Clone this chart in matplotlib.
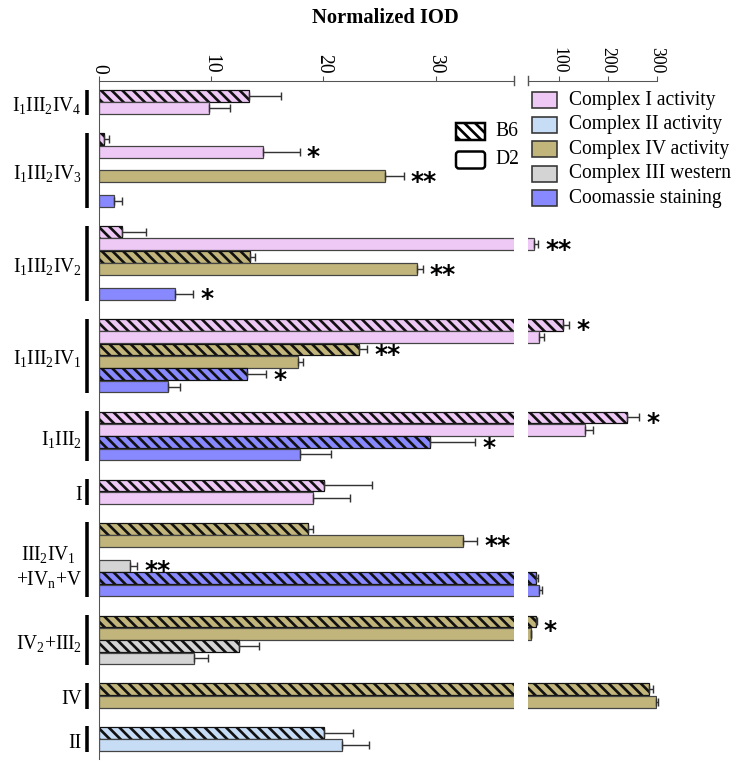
import numpy as np
import matplotlib
matplotlib.use('Agg')
import matplotlib.pyplot as plt
from matplotlib.patches import Rectangle, FancyBboxPatch
from matplotlib.transforms import blended_transform_factory, offset_copy

plt.rcParams['font.family'] = 'Liberation Serif'
plt.rcParams['mathtext.fontset'] = 'custom'
plt.rcParams['mathtext.rm'] = 'Liberation Serif'
plt.rcParams['mathtext.it'] = 'Liberation Serif:italic'
plt.rcParams['mathtext.bf'] = 'Liberation Serif:bold'
plt.rcParams['hatch.linewidth'] = 1.5

# group labels (top to bottom); the two-line one is split in two lines
group_labels = ['I$_1$III$_2$IV$_4$', 'I$_1$III$_2$IV$_3$', 'I$_1$III$_2$IV$_2$',
                'I$_1$III$_2$IV$_1$', 'I$_1$III$_2$', 'I',
                ('III$_2$IV$_1$', '+IV$_{\\mathrm{n}}$+V'), 'IV$_2$+III$_2$',
                'IV', 'II']

# one entry per bar slot (nan = empty slot)
bar_group = [0, 0,
             1, 1, 1, 1, 1, 1,
             2, 2, 2, 2, 2, 2,
             3, 3, 3, 3, 3, 3,
             4, 4, 4, 4,
             5, 5,
             6, 6, 6, 6, 6, 6,
             7, 7, 7, 7,
             8, 8,
             9, 9]
bar_complex = ['I', 'I',
               'I', 'I', 'IV', 'IV', 'C', 'C',
               'I', 'I', 'IV', 'IV', 'C', 'C',
               'I', 'I', 'IV', 'IV', 'C', 'C',
               'I', 'I', 'C', 'C',
               'I', 'I',
               'IV', 'IV', 'III', 'III', 'C', 'C',
               'IV', 'IV', 'III', 'III',
               'IV', 'IV',
               'II', 'II']
bar_strain = ['B6', 'D2'] * 20
bar_value = [13.4, 9.8,
             0.5, 14.6, np.nan, 25.5, np.nan, 1.4,
             2.1, 49.3, 13.5, 28.3, np.nan, 6.8,
             108.8, 59.6, 23.2, 17.7, 13.2, 6.2,
             238.7, 153.3, 29.5, 17.9,
             20.1, 19.1,
             18.6, 32.4, np.nan, 2.8, 52.0, 59.0,
             52.0, 41.8, 12.5, 8.5,
             285.2, 298.2,
             20.1, 21.7]
bar_err = [2.8, 1.9,
           0.45, 3.3, 0, 1.65, 0, 0.66,
           2.1, 8.0, 0.45, 0.55, 0, 1.6,
           11.6, 9.5, 0.7, 0.5, 1.7, 1.0,
           26.0, 17.0, 4.0, 2.8,
           4.2, 3.3,
           0.5, 1.3, 0, 0.6, 5.5, 5.4,
           2.0, 1.0, 1.8, 1.25,
           8.0, 5.0,
           2.5, 2.4]
bar_sig = ['', '',
           '', '*', '', '**', '', '',
           '', '**', '', '**', '', '*',
           '*', '', '**', '', '*', '',
           '*', '', '*', '',
           '', '',
           '', '**', '', '**', '', '',
           '*', '', '', '',
           '', '',
           '', '']

complex_names = ['I', 'II', 'IV', 'III', 'C']
complex_labels = ['Complex I activity', 'Complex II activity', 'Complex IV activity',
                  'Complex III western', 'Coomassie staining']
complex_colors = {'I': '#EEC9F5', 'II': '#C7DCF5', 'IV': '#C1B57B', 'III': '#D4D4D4', 'C': '#8989FF'}

left_ticks = [0, 10, 20, 30]
right_ticks = [100, 200, 300]
brk = 37.0

W, H, DPI = 740, 762, 128
fig = plt.figure(figsize=(W / DPI, H / DPI), dpi=DPI)


def fx(x):
    return x / W


def fy(y):
    return 1 - y / H


def pt(px):
    return px * 72 / DPI


top_px, bot_px = 80.5, 759
ax1 = fig.add_axes([fx(98.7), fy(bot_px), fx(514.3 - 98.7), (bot_px - top_px) / H])
ax2 = fig.add_axes([fx(528.3), fy(bot_px), fx(656.5 - 528.3), (bot_px - top_px) / H])

pos = np.arange(len(bar_value)) + 1.5 * np.array(bar_group)
pitch = (745 - 96) / pos[-1]
ytop = -(96 - top_px) / pitch
ybot = ytop + (bot_px - top_px) / pitch

HATCH = '\\' * 4

for i, v in enumerate(bar_value):
    if np.isnan(v):
        continue
    hatched = bar_strain[i] == 'B6'
    for ax in (ax1, ax2):
        ax.barh(pos[i], v, height=0.95, color=complex_colors[bar_complex[i]],
                edgecolor='#111111' if hatched else '#444444', linewidth=0.7,
                hatch=HATCH if hatched else None)
    ax = ax1 if v <= brk else ax2
    e = bar_err[i]
    ax.errorbar(v, pos[i], xerr=[[0], [e]], fmt='none', ecolor='#333333',
                elinewidth=0.8, capsize=2.2, capthick=0.8, clip_on=False)
    if bar_sig[i]:
        yy = pos[i]
        if bar_group[i] == 7:
            yy = pos[i] + 0.3
        ax.annotate(bar_sig[i], xy=(v + e, yy), xytext=(4, -7.0), textcoords='offset points',
                    ha='left', va='baseline', fontsize=14, fontweight='bold',
                    family='DejaVu Sans', annotation_clip=False)

for ax, lim, ticks, fs in ((ax1, (0, brk), left_ticks, 11), (ax2, (brk, 300), right_ticks, 10)):
    ax.set_xlim(*lim)
    ax.set_ylim(ybot, ytop)
    ax.set_yticks([])
    ax.set_xticks(ticks)
    ax.xaxis.set_ticks_position('top')
    ax.tick_params(axis='x', direction='out', length=2.8, width=0.6, color='#555555',
                   pad=1.0, labelsize=fs, labelrotation=-90)
    for s in ('right', 'bottom'):
        ax.spines[s].set_visible(False)
    ax.spines['top'].set_linewidth(0.6)
    ax.spines['top'].set_color('#555555')
    ax.patch.set_alpha(0)
ax1.spines['left'].set_linewidth(0.6)
ax1.spines['left'].set_color('#555555')
ax2.spines['left'].set_visible(False)

# break marks
h = 4.6 / (bot_px - top_px)
for ax in (ax1, ax2):
    ax.plot([brk, brk], [1 - h, 1 + h], color='#555555', lw=0.8,
            transform=ax.get_xaxis_transform(), clip_on=False)

# group brackets and labels
trans = blended_transform_factory(ax1.transAxes, ax1.transData)
axw = 514.3 - 98.7
bx = (87.3 - 98.7) / axw
lx = (82.0 - 98.7) / axw
cx = (48.5 - 98.7) / axw
for g, lab in enumerate(group_labels):
    p = pos[np.array(bar_group) == g]
    y0, y1 = p.min() - 0.5, p.max() + 0.55
    ym = (y0 + y1) / 2
    ax1.plot([bx, bx], [y0, y1], color='black', lw=2.0, transform=trans,
             clip_on=False, solid_capstyle='butt')
    if isinstance(lab, tuple):
        t1 = offset_copy(trans, fig=fig, x=0, y=-pt(0.5), units='points')
        t2 = offset_copy(trans, fig=fig, x=0, y=-pt(25.5), units='points')
        ax1.text(cx, ym, lab[0], transform=t1, ha='center', va='baseline', fontsize=11)
        ax1.text(cx, ym, lab[1], transform=t2, ha='center', va='baseline', fontsize=11)
    else:
        t = offset_copy(trans, fig=fig, x=0, y=-pt(8.5), units='points')
        ax1.text(lx, ym, lab, transform=t, ha='right', va='baseline', fontsize=11)

# title
fig.text(fx(385), fy(18), 'Normalized IOD', ha='center', va='center',
         fontsize=11.5, fontweight='bold')

# legend for complexes
for k, (c, lab) in enumerate(zip(complex_names, complex_labels)):
    yc = 100 + 24.6 * k
    fig.patches.append(Rectangle((fx(531.7), fy(yc + 8)), fx(25.6), 16 / H,
                                 transform=fig.transFigure, facecolor=complex_colors[c],
                                 edgecolor='#333333', lw=0.9))
    fig.text(fx(569), fy(yc), lab, ha='left', va='center', fontsize=11)

# legend for strains
fig.patches.append(Rectangle((fx(456), fy(131.7 + 8.5)), fx(29), 17 / H,
                             transform=fig.transFigure, facecolor='white',
                             edgecolor='black', lw=1.4, hatch=HATCH))
fig.patches.append(FancyBboxPatch((fx(456), fy(160 + 8.5)), fx(29), 17 / H,
                                  boxstyle='round,pad=0,rounding_size=0.004',
                                  transform=fig.transFigure, facecolor='white',
                                  edgecolor='black', lw=1.4))
fig.text(fx(495), fy(131.7), 'B6', ha='left', va='center', fontsize=11)
fig.text(fx(495), fy(160), 'D2', ha='left', va='center', fontsize=11)

fig.savefig('out.png', dpi=DPI)
